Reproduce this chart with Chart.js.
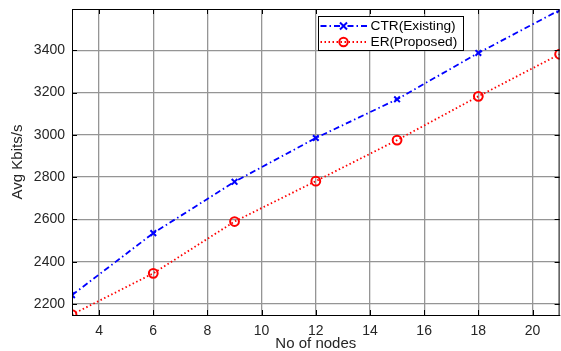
<!DOCTYPE html>
<html><head><meta charset="utf-8">
<script src="https://cdn.jsdelivr.net/npm/chart.js@4"></script>
<style>html,body{margin:0;padding:0;overflow:hidden;background:#fff}canvas{display:block}</style>
</head><body><canvas id="c" width="566" height="351"></canvas>
<script>
const nodes=[3,6,9,12,15,18,21];
const ctrExisting=[2242,2535,2778,2985,3168,3387,3590];
const erProposed=[2150,2345,2590,2781,2975,3182,3381];
const xTicks=[4,6,8,10,12,14,16,18,20];
const yTicks=[2200,2400,2600,2800,3000,3200,3400];
const seriesNames=['CTR(Existing)','ER(Proposed)'];
const xTitle='No of nodes';
const yTitle='Avg Kbits/s';

const FONT='"Liberation Sans", Arial, sans-serif';
const TXT='#262626';

const boxPlugin={
  id:'matlabBox',
  afterDraw(chart){
    const ctx=chart.ctx, a=chart.chartArea;
    const xs=chart.scales.x, ys=chart.scales.y;
    ctx.save();
    ctx.strokeStyle='#000';ctx.lineWidth=1;ctx.setLineDash([]);
    ctx.strokeRect(a.left+0.5,a.top+0.5,a.right-a.left-1,a.bottom-a.top);
    const tl=5;
    ctx.beginPath();
    xTicks.forEach(v=>{const px=Math.round(xs.getPixelForValue(v))+0.5;
      ctx.moveTo(px,a.bottom);ctx.lineTo(px,a.bottom-tl);
      ctx.moveTo(px,a.top);ctx.lineTo(px,a.top+tl);});
    yTicks.forEach(v=>{const py=Math.round(ys.getPixelForValue(v))+0.5;
      ctx.moveTo(a.left,py);ctx.lineTo(a.left+tl,py);
      ctx.moveTo(a.right,py);ctx.lineTo(a.right-tl,py);});
    ctx.stroke();
    // legend
    const bx=318.5,by=16.5,bw=145,bh=34;
    ctx.fillStyle='#fff';ctx.fillRect(bx,by,bw,bh);
    ctx.strokeRect(bx,by,bw,bh);
    ctx.font='13.7px '+FONT;ctx.textBaseline='middle';
    chart.data.datasets.forEach((ds,i)=>{
      const y=by+9.5+i*16;
      ctx.strokeStyle=ds.borderColor;ctx.lineWidth=ds.borderWidth;
      ctx.setLineDash(ds.borderDash);
      ctx.beginPath();ctx.moveTo(bx+2,y);ctx.lineTo(bx+49,y);ctx.stroke();
      ctx.setLineDash([]);
      const mx=bx+25;
      ctx.lineWidth=2;
      if(ds.pointStyle==='crossRot'){
        const r=3.5;ctx.beginPath();
        ctx.moveTo(mx-r,y-r);ctx.lineTo(mx+r,y+r);ctx.moveTo(mx+r,y-r);ctx.lineTo(mx-r,y+r);ctx.stroke();
      }else{
        ctx.beginPath();ctx.arc(mx,y,4.2,0,Math.PI*2);ctx.stroke();
      }
      ctx.fillStyle='#000';ctx.fillText(ds.label,bx+52,y+0.5);
    });
    ctx.restore();
  }
};

new Chart(document.getElementById('c'),{
  type:'line',
  data:{datasets:[
    {label:seriesNames[0],data:nodes.map((x,i)=>({x,y:ctrExisting[i]})),borderColor:'#0000ff',backgroundColor:'transparent',
     borderWidth:1.8,borderDash:[6,3,1.5,3],pointStyle:'crossRot',pointRadius:4,pointBorderWidth:2,pointBorderColor:'#0000ff',tension:0},
    {label:seriesNames[1],data:nodes.map((x,i)=>({x,y:erProposed[i]})),borderColor:'#ff0000',backgroundColor:'transparent',
     borderWidth:1.8,borderDash:[1.5,2.5],pointStyle:'circle',pointRadius:4.4,pointBorderWidth:2,pointBorderColor:'#ff0000',pointBackgroundColor:'transparent',tension:0}
  ]},
  options:{
    responsive:false,animation:false,
    layout:{padding:{left:0,top:9,right:1,bottom:0}},
    plugins:{legend:{display:false},tooltip:{enabled:false}},
    scales:{
      x:{type:'linear',min:3,max:21,
        afterBuildTicks(s){s.ticks=xTicks.map(v=>({value:v}));},
        afterFit(s){s.height=36;s.paddingLeft=0;s.paddingRight=0;},
        grid:{color:'#959595',lineWidth:1.3,drawTicks:false},
        border:{color:'#000',width:1},
        ticks:{color:TXT,font:{family:FONT,size:14},padding:8,maxRotation:0,autoSkip:false,callback:v=>String(v)},
        title:{display:true,text:xTitle,color:TXT,font:{family:FONT,size:15,lineHeight:1.0},padding:{top:0,bottom:0}}},
      y:{type:'linear',min:2148,max:3595,
        afterBuildTicks(s){s.ticks=yTicks.map(v=>({value:v}));},
        afterFit(s){s.width=72;s.paddingTop=0;s.paddingBottom=0;},
        grid:{color:'#959595',lineWidth:1.3,drawTicks:false},
        border:{color:'#000',width:1},
        ticks:{color:TXT,font:{family:FONT,size:14},padding:7,autoSkip:false,callback:v=>String(v)},
        title:{display:true,text:yTitle,color:TXT,font:{family:FONT,size:15},padding:{top:9,bottom:0}}}
    }
  },
  plugins:[boxPlugin]
});
</script></body></html>
